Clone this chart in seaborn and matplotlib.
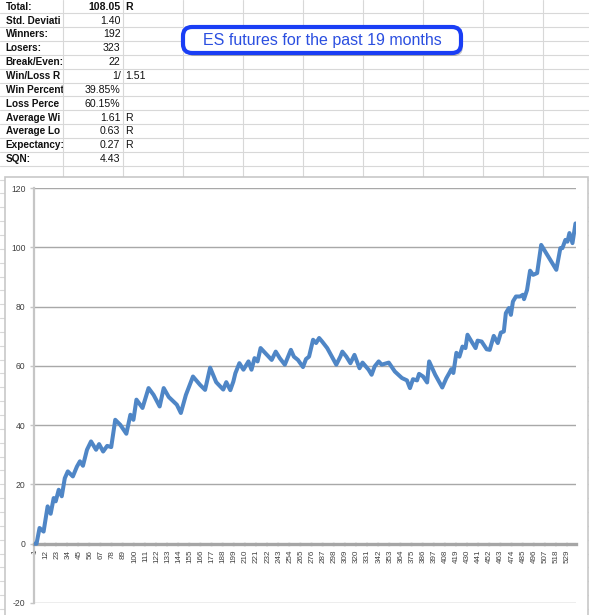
import numpy as np
import pandas as pd
import matplotlib
matplotlib.use("Agg")
import matplotlib.pyplot as plt
import seaborn as sns
from matplotlib.patches import Rectangle, FancyBboxPatch

# ---------------- data ----------------
stat_labels = ["Total:", "Std. Deviation:", "Winners:", "Losers:", "Break/Even:",
               "Win/Loss Ratio:", "Win Percentage:", "Loss Percentage:",
               "Average Win:", "Average Loss:", "Expectancy:", "SQN:"]
stat_values = ["108.05", "1.40", "192", "323", "22", "1/", "39.85%", "60.15%",
               "1.61", "0.63", "0.27", "4.43"]
stat_units = ["R", "", "", "", "", "1.51", "", "", "R", "R", "R", ""]
callout_text = "ES futures for the past 19 months"

trade_no = [1, 3, 6, 10, 14, 17, 20, 22, 25, 28, 31, 34, 39, 43, 46, 49, 53, 57,
            62, 65, 69, 73, 77, 81, 86, 92, 96, 99, 102, 108, 114, 119, 125, 129,
            134, 142, 146, 151, 158, 165, 170, 175, 181, 188, 191, 195, 198, 200,
            204, 208, 213, 216, 219, 222, 225, 233, 236, 240, 244, 249, 255, 258,
            262, 267, 270, 273, 277, 280, 283, 286, 291, 300, 304, 306, 310, 314,
            318, 323, 326, 332, 335, 338, 342, 345, 348, 352, 358, 365, 370, 373,
            376, 380, 382, 386, 390, 392, 398, 405, 409, 412, 414, 416, 419, 422,
            425, 428, 430, 434, 438, 440, 444, 449, 452, 456, 460, 463, 466, 468,
            471, 473, 475, 478, 482, 485, 486, 489, 492, 495, 499, 503, 508, 512,
            515, 518, 522, 524, 527, 529, 531, 534, 537]
equity_r = [0.0, 0.0, 5.3, 4.1, 12.6, 10.1, 15.4, 14.3, 18.2, 16.0, 22.1, 24.4,
            22.7, 26.0, 27.8, 26.3, 31.7, 34.5, 31.7, 33.6, 31.1, 33.0, 32.6, 41.8,
            40.1, 37.1, 43.5, 41.8, 48.6, 45.8, 52.5, 50.2, 46.3, 52.5, 49.5, 46.9,
            44.1, 50.2, 56.4, 53.6, 51.9, 59.4, 54.5, 52.0, 54.5, 51.8, 54.7, 57.5,
            60.9, 58.7, 61.5, 58.7, 62.6, 61.5, 66.0, 63.1, 62.0, 64.8, 62.6, 60.4,
            65.4, 63.1, 62.0, 59.6, 62.3, 63.1, 68.8, 67.7, 69.4, 68.2, 66.0, 60.4,
            63.1, 64.8, 63.1, 60.9, 63.7, 59.2, 61.1, 58.7, 57.0, 59.8, 61.5, 60.4,
            60.7, 61.1, 58.1, 55.9, 55.1, 52.5, 55.5, 55.1, 57.3, 56.4, 54.4, 61.5,
            57.0, 52.7, 55.8, 57.6, 58.9, 57.6, 64.4, 63.1, 66.5, 66.0, 70.5, 68.2,
            66.0, 68.5, 68.2, 65.6, 65.4, 70.1, 67.7, 71.2, 71.6, 77.8, 79.5, 77.2,
            81.7, 83.4, 83.4, 84.0, 82.5, 85.6, 92.1, 90.7, 91.3, 100.8, 98.0, 95.8,
            94.1, 92.4, 99.7, 99.7, 102.5, 101.9, 104.8, 101.4, 108.05]
y_ticks = [-20, 0, 20, 40, 60, 80, 100, 120]
x_tick_pos = list(range(1, 530, 11))
x_tick_labels = [str(v) for v in x_tick_pos]

df = pd.DataFrame({"trade": trade_no, "equity": equity_r})

# ---------------- style ----------------
sns.set_theme(style="white")
plt.rcParams['font.family'] = ['Liberation Sans', 'DejaVu Sans']
plt.rcParams['lines.scale_dashes'] = False

W, H = 589, 615
fig = plt.figure(figsize=(W / 100, H / 100), dpi=100)
fig.patch.set_facecolor("white")
renderer = fig.canvas.get_renderer()

# ---------------- spreadsheet background ----------------
bg = fig.add_axes([0, 0, 1, 1], zorder=0)
bg.set_xlim(0, W)
bg.set_ylim(H, 0)
bg.axis("off")

grid_c = "#d8d8d8"
row_h = 13.85
for k in range(1, 46):
    yy = -0.5 + row_h * k
    bg.plot([0, W], [yy, yy], color=grid_c, lw=0.8, zorder=2.6)
for k in range(9):
    xx = 62.7 + 60 * k
    bg.plot([xx, xx], [0, H], color=grid_c, lw=0.8, zorder=2.6)

# labels in column A: cut off where the next (filled) cell starts
for r, lab in enumerate(stat_labels):
    yc = -0.5 + row_h * (r + 0.5) + 0.3
    t = bg.text(5.5, yc, lab, fontsize=7.2, fontweight="bold", color="#111111",
                ha="left", va="center", zorder=2)
    shown = lab
    while len(shown) > 1 and t.get_window_extent(renderer).width > 59:
        shown = shown[:-1]
        t.set_text(shown)
bg.add_patch(Rectangle((62.7, -1), 60, row_h * 12 + 2, fc="white", ec="none",
                       zorder=2.5))

for r, (val, unit) in enumerate(zip(stat_values, stat_units)):
    yc = -0.5 + row_h * (r + 0.5) + 0.3
    bg.text(120.5, yc, val, fontsize=7.6, color="#111111",
            fontweight="bold" if r == 0 else "normal",
            ha="right", va="center", zorder=3)
    if unit:
        bg.text(125.5, yc, unit, fontsize=7.6, color="#111111",
                fontweight="bold" if r == 0 else "normal",
                ha="left", va="center", zorder=3)

# callout
shadow = FancyBboxPatch((185, 30), 278, 26, boxstyle="round,pad=0,rounding_size=9",
                        fc="#000000", ec="none", alpha=0.22, zorder=4)
bg.add_patch(shadow)
box = FancyBboxPatch((183, 27), 278, 26, boxstyle="round,pad=0,rounding_size=9",
                     fc="white", ec="#1a3ef5", lw=3.0, zorder=5)
bg.add_patch(box)
bg.text(322, 40.5, callout_text, fontsize=11.5, color="#2b4fe0",
        ha="center", va="center", zorder=6)

# chart area
bg.add_patch(Rectangle((5, 176.5), 582.5, 440, fc="white", ec="#c8c8c8",
                       lw=1.2, zorder=7))

# ---------------- line chart ----------------
ax = fig.add_axes([34 / W, 1 - 603 / H, (576 - 34) / W, (603 - 188) / H], zorder=2)
ax.set_facecolor("none")
sns.lineplot(data=df, x="trade", y="equity", ax=ax, color="#4f86c6",
             linewidth=2.9, zorder=3)
ax.set_xlim(0.5, 537.5)
ax.set_ylim(-20, 120)

for s in ["top", "right"]:
    ax.spines[s].set_visible(False)
ax.spines["left"].set_color("#c6c6c6")
ax.spines["left"].set_linewidth(1.6)
ax.spines["bottom"].set_position(("data", 0))
ax.spines["bottom"].set_color("#a6a6a6")
ax.spines["bottom"].set_linewidth(2.4)
ax.spines["bottom"].set_linestyle((0, (6.9, 1.1)))

ax.set_yticks(y_ticks)
ax.set_yticklabels([str(v) for v in y_ticks])
ax.set_xticks(x_tick_pos)
ax.set_xticklabels(x_tick_labels)
ax.set_xlabel("")
ax.set_ylabel("")

ax.yaxis.grid(True, color="#a8a8a8", lw=1.0)
ax.xaxis.grid(False)
ax.set_axisbelow(True)

ax.tick_params(axis="y", left=True, length=3, width=1, color="#c6c6c6",
               labelsize=6.2, labelcolor="#404040", pad=3)
ax.tick_params(axis="x", bottom=True, length=0, labelsize=5.8,
               labelcolor="#404040", pad=4.5, labelrotation=90)

fig.savefig("out.png", dpi=100, facecolor="white")
